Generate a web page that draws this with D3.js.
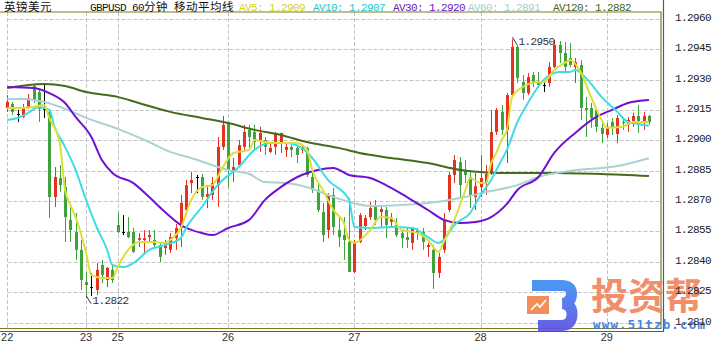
<!DOCTYPE html>
<html lang="zh">
<head>
<meta charset="UTF-8">
<title>英镑美元 GBPUSD 60分钟</title>
<script src="https://cdnjs.cloudflare.com/ajax/libs/d3/7.8.5/d3.min.js"></script>
<style>
  html, body { margin: 0; padding: 0; background: #fff; }
  svg { display: block; }
  text { white-space: pre; }
</style>
</head>
<body>
<svg width="715" height="343"></svg>
<script>
// day labels and the candle index where each day starts
const dayLabels = ["22", "23", "25", "26", "27", "28", "29"];
const dayStart = [0, 15, 21, 42, 66, 90, 114];
const yTicks = [1.2960, 1.2945, 1.2930, 1.2915, 1.2900, 1.2885, 1.2870, 1.2855, 1.2840, 1.2825, 1.2810];

// hourly candles
const open = [
  1.29160, 1.29180, 1.29131, 1.29116, 1.29160, 1.29269, 1.29239, 1.29156, 1.29141, 1.28720,
  1.28814, 1.28769, 1.28607, 1.28547, 1.28459, 1.28300, 1.28275, 1.28261, 1.28384, 1.28310,
  1.28360, 1.28582, 1.28547, 1.28547, 1.28547, 1.28508, 1.28508, 1.28522, 1.28508, 1.28483,
  1.28468, 1.28459, 1.28517, 1.28567, 1.28656, 1.28789, 1.28819, 1.28819, 1.28720, 1.28730,
  1.28779, 1.28968, 1.29086, 1.28844, 1.28878, 1.28968, 1.29052, 1.29042, 1.29002, 1.29002,
  1.28943, 1.28968, 1.28987, 1.28953, 1.28968, 1.28963, 1.28953, 1.28963, 1.28819, 1.28755,
  1.28646, 1.28557, 1.28730, 1.28557, 1.28532, 1.28498, 1.28350, 1.28498, 1.28577, 1.28621,
  1.28671, 1.28646, 1.28656, 1.28597, 1.28582, 1.28542, 1.28522, 1.28493, 1.28557, 1.28547,
  1.28473, 1.28459, 1.28345, 1.28459, 1.28656, 1.28829, 1.28893, 1.28854, 1.28819, 1.28720,
  1.28769, 1.28794, 1.28839, 1.29042, 1.29141, 1.29052, 1.29224, 1.29462, 1.29289, 1.29234,
  1.29323, 1.29289, 1.29274, 1.29284, 1.29363, 1.29472, 1.29432, 1.29407, 1.29363, 1.29373,
  1.29160, 1.29160, 1.29151, 1.29062, 1.29027, 1.29091, 1.29032, 1.29091, 1.29077, 1.29096,
  1.29121, 1.29091, 1.29121
];
const high = [
  1.29224, 1.29190, 1.29151, 1.29180, 1.29229, 1.29279, 1.29254, 1.29279, 1.29151, 1.28868,
  1.28878, 1.28819, 1.28671, 1.28641, 1.28508, 1.28350, 1.28345, 1.28394, 1.28409, 1.28374,
  1.28384, 1.28646, 1.28631, 1.28621, 1.28567, 1.28542, 1.28557, 1.28557, 1.28557, 1.28498,
  1.28508, 1.28542, 1.28587, 1.28730, 1.28804, 1.28844, 1.28829, 1.28834, 1.28779, 1.28819,
  1.29017, 1.29121, 1.29091, 1.28913, 1.29002, 1.29077, 1.29077, 1.29077, 1.29067, 1.29017,
  1.28992, 1.29042, 1.29037, 1.28987, 1.28977, 1.28968, 1.28977, 1.28968, 1.28844, 1.28794,
  1.28691, 1.28740, 1.28765, 1.28621, 1.28621, 1.28716, 1.28508, 1.28641, 1.28631, 1.28696,
  1.28706, 1.28681, 1.28671, 1.28641, 1.28616, 1.28557, 1.28572, 1.28572, 1.28567, 1.28567,
  1.28493, 1.28483, 1.28444, 1.28641, 1.28844, 1.28928, 1.28918, 1.28903, 1.28854, 1.28839,
  1.28928, 1.28878, 1.29151, 1.29160, 1.29175, 1.29234, 1.29500, 1.29472, 1.29323, 1.29333,
  1.29338, 1.29338, 1.29289, 1.29387, 1.29496, 1.29491, 1.29486, 1.29481, 1.29407, 1.29397,
  1.29215, 1.29185, 1.29160, 1.29101, 1.29086, 1.29111, 1.29126, 1.29111, 1.29116, 1.29136,
  1.29175, 1.29141, 1.29126
];
const low = [
  1.29141, 1.29126, 1.29091, 1.29111, 1.29156, 1.29185, 1.29091, 1.29111, 1.28616, 1.28671,
  1.28745, 1.28498, 1.28498, 1.28409, 1.28261, 1.28220, 1.28231, 1.28236, 1.28295, 1.28275,
  1.28295, 1.28542, 1.28532, 1.28517, 1.28444, 1.28473, 1.28434, 1.28498, 1.28468, 1.28399,
  1.28434, 1.28444, 1.28459, 1.28473, 1.28631, 1.28740, 1.28740, 1.28706, 1.28666, 1.28706,
  1.28671, 1.28953, 1.28765, 1.28794, 1.28868, 1.28953, 1.28963, 1.28953, 1.28943, 1.28928,
  1.28938, 1.28928, 1.28938, 1.28918, 1.28918, 1.28888, 1.28938, 1.28819, 1.28740, 1.28646,
  1.28498, 1.28517, 1.28532, 1.28473, 1.28409, 1.28350, 1.28345, 1.28493, 1.28557, 1.28607,
  1.28582, 1.28572, 1.28517, 1.28572, 1.28522, 1.28468, 1.28468, 1.28459, 1.28508, 1.28459,
  1.28424, 1.28266, 1.28320, 1.28444, 1.28646, 1.28789, 1.28720, 1.28789, 1.28666, 1.28656,
  1.28720, 1.28730, 1.28829, 1.29027, 1.29027, 1.28888, 1.29215, 1.29284, 1.29200, 1.29224,
  1.29264, 1.29259, 1.29239, 1.29264, 1.29358, 1.29382, 1.29333, 1.29363, 1.29284, 1.29101,
  1.29017, 1.29062, 1.29042, 1.28987, 1.29012, 1.29027, 1.28987, 1.29052, 1.29042, 1.29067,
  1.29037, 1.29052, 1.29077
];
const close = [
  1.29190, 1.29141, 1.29131, 1.29165, 1.29209, 1.29200, 1.29156, 1.29156, 1.28720, 1.28819,
  1.28779, 1.28621, 1.28557, 1.28459, 1.28310, 1.28285, 1.28275, 1.28360, 1.28335, 1.28370,
  1.28310, 1.28547, 1.28547, 1.28522, 1.28449, 1.28517, 1.28517, 1.28532, 1.28483, 1.28424,
  1.28498, 1.28522, 1.28567, 1.28691, 1.28779, 1.28804, 1.28819, 1.28720, 1.28735, 1.28789,
  1.28968, 1.29077, 1.28854, 1.28868, 1.28977, 1.29042, 1.29017, 1.28992, 1.29037, 1.28968,
  1.28963, 1.29037, 1.29037, 1.28968, 1.28953, 1.28928, 1.28968, 1.28829, 1.28755, 1.28656,
  1.28532, 1.28730, 1.28572, 1.28522, 1.28508, 1.28350, 1.28498, 1.28631, 1.28616, 1.28666,
  1.28607, 1.28661, 1.28582, 1.28616, 1.28532, 1.28517, 1.28508, 1.28567, 1.28542, 1.28498,
  1.28483, 1.28345, 1.28424, 1.28607, 1.28829, 1.28903, 1.28779, 1.28829, 1.28730, 1.28774,
  1.28814, 1.28834, 1.29042, 1.29151, 1.29052, 1.29224, 1.29462, 1.29309, 1.29234, 1.29313,
  1.29284, 1.29274, 1.29274, 1.29363, 1.29472, 1.29432, 1.29363, 1.29373, 1.29387, 1.29160,
  1.29151, 1.29111, 1.29067, 1.29032, 1.29067, 1.29062, 1.29111, 1.29086, 1.29101, 1.29121,
  1.29091, 1.29121, 1.29091
];

// moving averages as [candle index, value]
const ma5 = [[0,1.29160],[2,1.29160],[5,1.29165],[7,1.29175],[8,1.29111],[10,1.28987],[11,1.28755],[12,1.28681],
  [13,1.28621],[15,1.28444],[16,1.28335],[18,1.28320],[20,1.28320],[21,1.28374],[23,1.28459],[25,1.28498],
  [28,1.28498],[30,1.28493],[31,1.28508],[33,1.28567],[35,1.28706],[37,1.28769],[39,1.28779],[41,1.28868],
  [43,1.28938],[46,1.28953],[47,1.29002],[49,1.28992],[52,1.28987],[55,1.28987],[57,1.28953],[58,1.28854],
  [60,1.28755],[62,1.28656],[64,1.28592],[65,1.28508],[66,1.28493],[69,1.28557],[71,1.28621],[73,1.28616],
  [75,1.28557],[78,1.28542],[80,1.28508],[82,1.28449],[83,1.28498],[85,1.28607],[87,1.28745],[88,1.28814],
  [90,1.28789],[91,1.28789],[92,1.28888],[93,1.28938],[94,1.29002],[95,1.29052],[96,1.29215],[98,1.29264],
  [101,1.29289],[102,1.29289],[104,1.29348],[106,1.29383],[107,1.29397],[109,1.29338],[111,1.29215],
  [113,1.29101],[114,1.29062],[117,1.29067],[119,1.29091],[122,1.29091]];
const ma10 = [[0,1.29101],[2,1.29111],[4,1.29136],[6,1.29165],[8,1.29151],[9,1.29067],[11,1.28968],[13,1.28854],
  [15,1.28706],[17,1.28572],[19,1.28459],[20,1.28384],[22,1.28374],[24,1.28394],[27,1.28459],[30,1.28483],
  [33,1.28517],[34,1.28567],[37,1.28671],[40,1.28779],[44,1.28868],[47,1.28953],[50,1.28987],[53,1.28987],
  [56,1.28963],[58,1.28913],[61,1.28804],[65,1.28706],[66,1.28572],[69,1.28567],[73,1.28572],[77,1.28567],
  [80,1.28522],[82,1.28493],[83,1.28508],[85,1.28582],[88,1.28641],[90,1.28730],[92,1.28804],[93,1.28854],
  [94,1.28903],[95,1.28953],[97,1.29091],[99,1.29185],[102,1.29299],[105,1.29338],[107,1.29338],[108,1.29348],
  [110,1.29309],[113,1.29215],[116,1.29141],[118,1.29091],[120,1.29081],[122,1.29071]];
const ma30 = [[0,1.29264],[5,1.29259],[8,1.29234],[11,1.29185],[13,1.29116],[16,1.29017],[18,1.28903],[20,1.28839],
  [24,1.28789],[27,1.28720],[30,1.28646],[33,1.28582],[37,1.28542],[39,1.28532],[42,1.28567],[46,1.28607],
  [49,1.28706],[52,1.28769],[56,1.28829],[59,1.28854],[62,1.28864],[65,1.28829],[69,1.28814],[72,1.28779],
  [76,1.28720],[80,1.28656],[83,1.28607],[86,1.28592],[89,1.28597],[92,1.28621],[95,1.28686],[97,1.28755],
  [101,1.28819],[104,1.28938],[108,1.29037],[112,1.29116],[115,1.29151],[118,1.29185],[122,1.29200]];
const ma60 = [[0,1.29205],[3,1.29205],[7,1.29190],[11,1.29156],[15,1.29111],[21,1.29057],[27,1.28992],[31,1.28943],
  [35,1.28913],[39,1.28878],[42,1.28854],[46,1.28834],[49,1.28794],[53,1.28789],[57,1.28769],[61,1.28730],
  [65,1.28696],[69,1.28676],[75,1.28681],[80,1.28691],[83,1.28701],[87,1.28720],[91,1.28745],[97,1.28779],
  [101,1.28819],[107,1.28849],[116,1.28873],[122,1.28912]];
const ma120 = [[0,1.29259],[7,1.29279],[11,1.29269],[15,1.29239],[21,1.29215],[25,1.29185],[31,1.29141],[37,1.29111],
  [42,1.29086],[47,1.29052],[52,1.29027],[57,1.28992],[63,1.28963],[67,1.28938],[73,1.28913],[80,1.28888],
  [85,1.28859],[90,1.28844],[94,1.28839],[104,1.28839],[113,1.28834],[122,1.28824]];

const maSeries = [
  { name: "AV5",   data: ma5,   color: "#dede3a", text: "#d2d21e", tx: 239 },
  { name: "AV10",  data: ma10,  color: "#3ddde6", text: "#22c6d0", tx: 313 },
  { name: "AV30",  data: ma30,  color: "#7110d2", text: "#6a18c4", tx: 393 },
  { name: "AV60",  data: ma60,  color: "#a9d2d2", text: "#a6cccc", tx: 468 },
  { name: "AV120", data: ma120, color: "#476b1d", text: "#3f6414", tx: 553 }
];

const svg = d3.select("svg");
const fmt = d3.format(".4f");
const frame = { left: 0, top: 12, right: 661, bottom: 328.5 };
const n = close.length;

const x = d3.scaleLinear().domain([0, n - 1]).range([7.2, 7.2 + (n - 1) * 5.26]);
const y = d3.scaleLinear().domain([1.2810, 1.2960]).range([322.5, 19]);

svg.append("defs").append("clipPath").attr("id", "plotclip")
  .append("rect").attr("x", frame.left).attr("y", frame.top)
  .attr("width", frame.right - frame.left).attr("height", frame.bottom - frame.top);

// dashed grid
const grid = svg.append("g").attr("stroke", "#c4c4c4").attr("stroke-dasharray", "4,2");
grid.selectAll("line.h").data(yTicks).enter().append("line")
  .attr("x1", Math.round(x(0)) + 0.5).attr("x2", frame.right)
  .attr("y1", d => Math.round(y(d)) + 0.5).attr("y2", d => Math.round(y(d)) + 0.5);
grid.selectAll("line.v").data(dayStart).enter().append("line")
  .attr("y1", frame.top).attr("y2", frame.bottom)
  .attr("x1", d => Math.round(x(d)) + 0.5).attr("x2", d => Math.round(x(d)) + 0.5);

const plot = svg.append("g").attr("clip-path", "url(#plotclip)");

// candles: red up, green down, black doji
const candleColor = i => close[i] > open[i] ? "#e5321f" : (close[i] < open[i] ? "#3fa23c" : "#000");
const candles = plot.append("g").selectAll("g").data(d3.range(n)).enter().append("g")
  .attr("fill", candleColor).attr("stroke", candleColor);
candles.append("line")
  .attr("x1", i => Math.round(x(i)) + 0.5).attr("x2", i => Math.round(x(i)) + 0.5)
  .attr("y1", i => y(high[i])).attr("y2", i => y(low[i]))
  .attr("stroke-width", 1);
candles.append("rect")
  .attr("stroke", "none")
  .attr("x", i => Math.round(x(i)) - 1)
  .attr("width", 3)
  .attr("y", i => y(Math.max(open[i], close[i])))
  .attr("height", i => Math.max(1, Math.abs(y(open[i]) - y(close[i]))));

// moving averages
const line = d3.line().x(d => x(d[0])).y(d => y(d[1])).curve(d3.curveMonotoneX);
plot.append("g").selectAll("path").data(maSeries.slice().reverse()).enter().append("path")
  .attr("fill", "none")
  .attr("stroke", d => d.color)
  .attr("stroke-width", 2)
  .attr("stroke-linejoin", "round")
  .attr("d", d => line(d.data));

// high / low markers
function marker(i, v) {
  const cx = Math.round(x(i)) + 0.5, cy = y(v);
  svg.append("line").attr("x1", cx).attr("y1", cy - 2).attr("x2", cx + 4.5).attr("y2", cy + 5.5)
    .attr("stroke", "#333").attr("stroke-width", 1);
  svg.append("text").attr("x", cx + 6).attr("y", cy + 6)
    .attr("font-family", "'Liberation Mono', monospace").attr("font-size", 11)
    .attr("letter-spacing", -0.6).attr("fill", "#333").text(fmt(v));
}
const hiIdx = d3.maxIndex(high), loIdx = d3.minIndex(low);
marker(hiIdx, high[hiIdx]);
marker(loIdx, low[loIdx]);

// frame
svg.append("path").attr("fill", "none").attr("stroke", "#7d7d22").attr("stroke-width", 1.2)
  .attr("d", `M${frame.left},${frame.top}H${frame.right}V${frame.bottom}H${frame.left}`);
svg.append("path").attr("fill", "none").attr("stroke", "#23707a").attr("stroke-width", 1.2)
  .attr("d", `M663.5,0V331.5H0`);

// header
function mixedText(str, x0, yb, color) {
  const t = svg.append("text").attr("x", x0).attr("y", yb).attr("fill", color);
  str.match(/[\u3000-\u9fff]+|[^\u3000-\u9fff]+/g).forEach(r => {
    const cjk = /[\u3000-\u9fff]/.test(r);
    t.append("tspan").text(r)
      .attr("font-family", cjk ? "'Noto Sans CJK SC'" : "'Liberation Mono', monospace")
      .attr("font-size", cjk ? 11.5 : 11)
      .attr("letter-spacing", cjk ? 0.5 : -0.6);
  });
}
mixedText("英镑美元", 4, 11, "#111");
mixedText("GBPUSD 60分钟 移动平均线", 90, 11, "#111");
maSeries.forEach(s => mixedText(`${s.name}: ${fmt(s.data[s.data.length - 1][1])}`, s.tx, 11, s.text));

// watermark
const wm = svg.append("g").attr("opacity", 0.92);
const grad = svg.select("defs").append("linearGradient").attr("id", "wmblue")
  .attr("x1", 0).attr("y1", 0).attr("x2", 0).attr("y2", 1);
grad.append("stop").attr("offset", "0%").attr("stop-color", "#3f8df2");
grad.append("stop").attr("offset", "100%").attr("stop-color", "#5a55e6");
wm.append("path").attr("fill", "none").attr("stroke", "url(#wmblue)").attr("stroke-width", 11)
  .attr("d", "M532,285.5H562Q571.5,285.5 571.5,294Q571.5,302 563,303.5Q572,305 572,314Q572,325.5 561,325.5H538");
wm.append("rect").attr("x", 527).attr("y", 296).attr("width", 22).attr("height", 18).attr("fill", "#f1854f");
wm.append("polyline").attr("fill", "none").attr("stroke", "#fff").attr("stroke-width", 1.6)
  .attr("points", "531,310 537,304 540,307 546,300");
wm.append("text").attr("x", 591).attr("y", 310)
  .attr("font-family", "'Noto Sans CJK SC'").attr("font-weight", 700).attr("font-size", 37)
  .attr("fill", "#f0865e").text("投资帮");
wm.append("text").attr("x", 593).attr("y", 328.5)
  .attr("font-family", "'DejaVu Sans Mono', monospace").attr("font-weight", 700).attr("font-size", 12.5)
  .attr("textLength", 112).attr("fill", "#3b78d6").text("www.51tzb.com");

// y-axis labels
svg.append("g").selectAll("text").data(yTicks).enter().append("text")
  .attr("x", 675).attr("y", d => y(d) + 2)
  .attr("font-family", "'Liberation Mono', monospace").attr("font-size", 11)
  .attr("letter-spacing", -0.6).attr("fill", "#222").text(d => fmt(d));

// x-axis day labels
svg.append("g").selectAll("text").data(dayStart).enter().append("text")
  .attr("x", d => x(d)).attr("y", 341).attr("text-anchor", "middle")
  .attr("font-family", "'Liberation Sans', sans-serif").attr("font-size", 11)
  .attr("fill", "#333").text((d, k) => dayLabels[k]);
</script>
</body>
</html>
